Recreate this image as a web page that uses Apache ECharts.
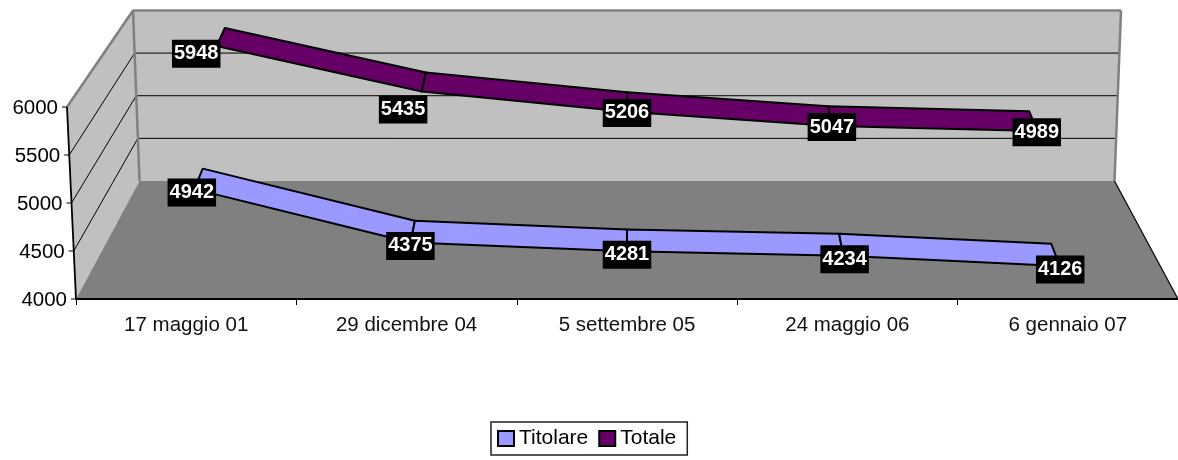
<!DOCTYPE html>
<html>
<head>
<meta charset="utf-8">
<style>html,body{margin:0;padding:0;background:#fff}#c{width:1178px;height:460px}</style>
<script src="https://cdn.jsdelivr.net/npm/echarts@6/dist/echarts.min.js"></script>
</head>
<body>
<div id="c"></div>
<script>
const categories = ['17 maggio 01', '29 dicembre 04', '5 settembre 05', '24 maggio 06', '6 gennaio 07'];
const titolare = [4942, 4375, 4281, 4234, 4126];
const totale = [5948, 5435, 5206, 5047, 4989];
const yTicks = [4000, 4500, 5000, 5500, 6000];

const FONT = '"Liberation Sans", Arial, sans-serif';
const chart = echarts.init(document.getElementById('c'), null, {renderer: 'canvas'});

// projection of the front plane toward the back wall
const KX = 975 / 1102, KY = 171 / 192.5, FRONT_SLANT = 9, BACK_SLANT = 6.5, RIBBON_X = 0.88, BACK_FLOOR = 181;
const lerp = (a, b, t) => a + (b - a) * t;
const frac = v => (v - yTicks[0]) / (yTicks[yTicks.length - 1] - yTicks[0]);

function project(cs, px, py, d, xd) {
  const cx = cs.x + cs.width / 2, base = cs.y + cs.height;
  const bx = cx + (px - cx) * KX;
  const by = BACK_FLOOR + (py - base) * KY;
  return [lerp(px, bx, xd == null ? d : xd), lerp(py, by, d)];
}
// point on the wall frame: side -1 left, +1 right
function corner(cs, api, side, v, d) {
  const py = api.coord([0, v])[1], cx = cs.x + cs.width / 2, base = cs.y + cs.height;
  const fx = side < 0 ? cs.x : cs.x + cs.width;
  const bx = cx + (fx - cx) * KX;
  const by = BACK_FLOOR + (py - base) * KY;
  const s = frac(v);
  return [lerp(fx + side * FRONT_SLANT * s, bx + side * BACK_SLANT * s, d), lerp(py, by, d)];
}

function renderFrame(params, api) {
  const cs = params.coordSys, top = yTicks[yTicks.length - 1], bot = yTicks[0];
  const P = (side, v, d) => corner(cs, api, side, v, d);
  const kids = [];
  const poly = (points, fill) => kids.push({type: 'polygon', shape: {points}, style: {fill, stroke: null}});
  const line = (a, b, stroke, lineWidth) => kids.push({type: 'line', shape: {x1: a[0], y1: a[1], x2: b[0], y2: b[1]}, style: {stroke, lineWidth, fill: null}});
  poly([P(-1, bot, 0), P(-1, top, 0), P(-1, top, 1), P(-1, bot, 1)], '#C0C0C0');
  poly([P(-1, bot, 1), P(-1, top, 1), P(1, top, 1), P(1, bot, 1)], '#C0C0C0');
  poly([P(-1, bot, 0), P(-1, bot, 1), P(1, bot, 1), P(1, bot, 0)], '#808080');
  yTicks.slice(1, -1).forEach(v => {
    line(P(-1, v, 0), P(-1, v, 1), '#000', 1);
    line(P(-1, v, 1), P(1, v, 1), '#000', 1);
  });
  line(P(-1, top, 0), P(-1, top, 1), '#808080', 2.5);
  line(P(-1, top, 1), P(1, top, 1), '#808080', 2.5);
  line(P(-1, top, 1), P(-1, bot, 1), '#808080', 2.5);
  line(P(1, top, 1), P(1, bot, 1), '#808080', 2.5);
  line(P(1, bot, 1), P(1, bot, 0), '#000', 1.2);
  line(P(-1, bot, 0), P(-1, top, 0), '#000', 1.8);
  yTicks.forEach(v => {
    const a = P(-1, v, 0);
    line([a[0] - 5, a[1]], a, '#000', 1);
  });
  return {type: 'group', children: kids};
}

function ribbon(values, fill, dNear, dFar, dLabel, nudge) {
  return function (params, api) {
    const cs = params.coordSys, i = api.value(0), kids = [];
    const at = (k, d) => {
      const c = api.coord([k, values[k]]);
      return project(cs, c[0], c[1], d, d * RIBBON_X);
    };
    if (i < values.length - 1) {
      kids.push({
        type: 'polygon', z2: 1,
        shape: {points: [at(i, dNear), at(i, dFar), at(i + 1, dFar), at(i + 1, dNear)]},
        style: {fill, stroke: '#000', lineWidth: 2, lineJoin: 'round'}
      });
    }
    const c = api.coord([i, values[i]]);
    const l = project(cs, c[0], c[1], dLabel);
    kids.push({
      type: 'text', z2: 10,
      x: l[0] + nudge[i][0], y: l[1] + nudge[i][1],
      style: {
        text: String(values[i]), font: 'bold 20px ' + FONT, fill: '#fff',
        align: 'center', verticalAlign: 'middle',
        backgroundColor: '#000', padding: [5, 2, 3, 2]
      }
    });
    return {type: 'group', children: kids};
  };
}

const labelRich = {};
yTicks.forEach(v => {
  labelRich['p' + v] = {fontFamily: FONT, fontSize: 20.5, color: '#000', padding: [3, FRONT_SLANT * frac(v), 0, 0]};
});

chart.setOption({
  animation: false,
  backgroundColor: '#fff',
  tooltip: {show: false},
  grid: {left: 76, right: 0, top: 107, bottom: 161, containLabel: false},
  legend: {
    left: 491, top: 422, padding: [6, 11, 6, 6],
    orient: 'horizontal', selectedMode: false,
    borderColor: '#222', borderWidth: 1.5,
    itemWidth: 16, itemHeight: 15, itemGap: 10,
    textStyle: {fontFamily: FONT, fontSize: 21, color: '#000'},
    data: [
      {name: 'Titolare', icon: 'rect', itemStyle: {color: '#9999FF', borderColor: '#000', borderWidth: 2}},
      {name: 'Totale', icon: 'rect', itemStyle: {color: '#660066', borderColor: '#000', borderWidth: 2}}
    ]
  },
  xAxis: {
    type: 'category', data: categories, boundaryGap: true, z: 5,
    axisLine: {lineStyle: {color: '#000', width: 2}},
    axisTick: {show: true, alignWithLabel: false, length: 6, lineStyle: {color: '#000', width: 1}},
    axisLabel: {fontFamily: FONT, fontSize: 20.5, color: '#111', margin: 16, interval: 0}
  },
  yAxis: {
    type: 'value', min: 4000, max: 6000, interval: 500,
    axisLine: {show: false}, axisTick: {show: false}, splitLine: {show: false},
    axisLabel: {margin: 9, formatter: v => '{p' + v + '|' + v + '}', rich: labelRich, color: '#000'}
  },
  series: [
    {type: 'custom', name: 'frame', z: 1, silent: true, coordinateSystem: 'cartesian2d', renderItem: renderFrame, data: [[0, 4000]]},
    {type: 'custom', name: 'Totale', z: 2, silent: true, coordinateSystem: 'cartesian2d', itemStyle: {color: '#660066'},
      renderItem: ribbon(totale, '#660066', 0.68, 0.865, 0.65, [[-23, 5], [-20, 15], [0, -2], [1, -2], [2, -2]]),
      data: totale.map((v, i) => [i, v])},
    {type: 'custom', name: 'Titolare', z: 3, silent: true, coordinateSystem: 'cartesian2d', itemStyle: {color: '#9999FF'},
      renderItem: ribbon(titolare, '#9999FF', 0.18, 0.37, 0.15, [[-2, 0], [0, 0], [0, 0], [1, 0], [0, 0]]),
      data: titolare.map((v, i) => [i, v])}
  ]
});
</script>
</body>
</html>
